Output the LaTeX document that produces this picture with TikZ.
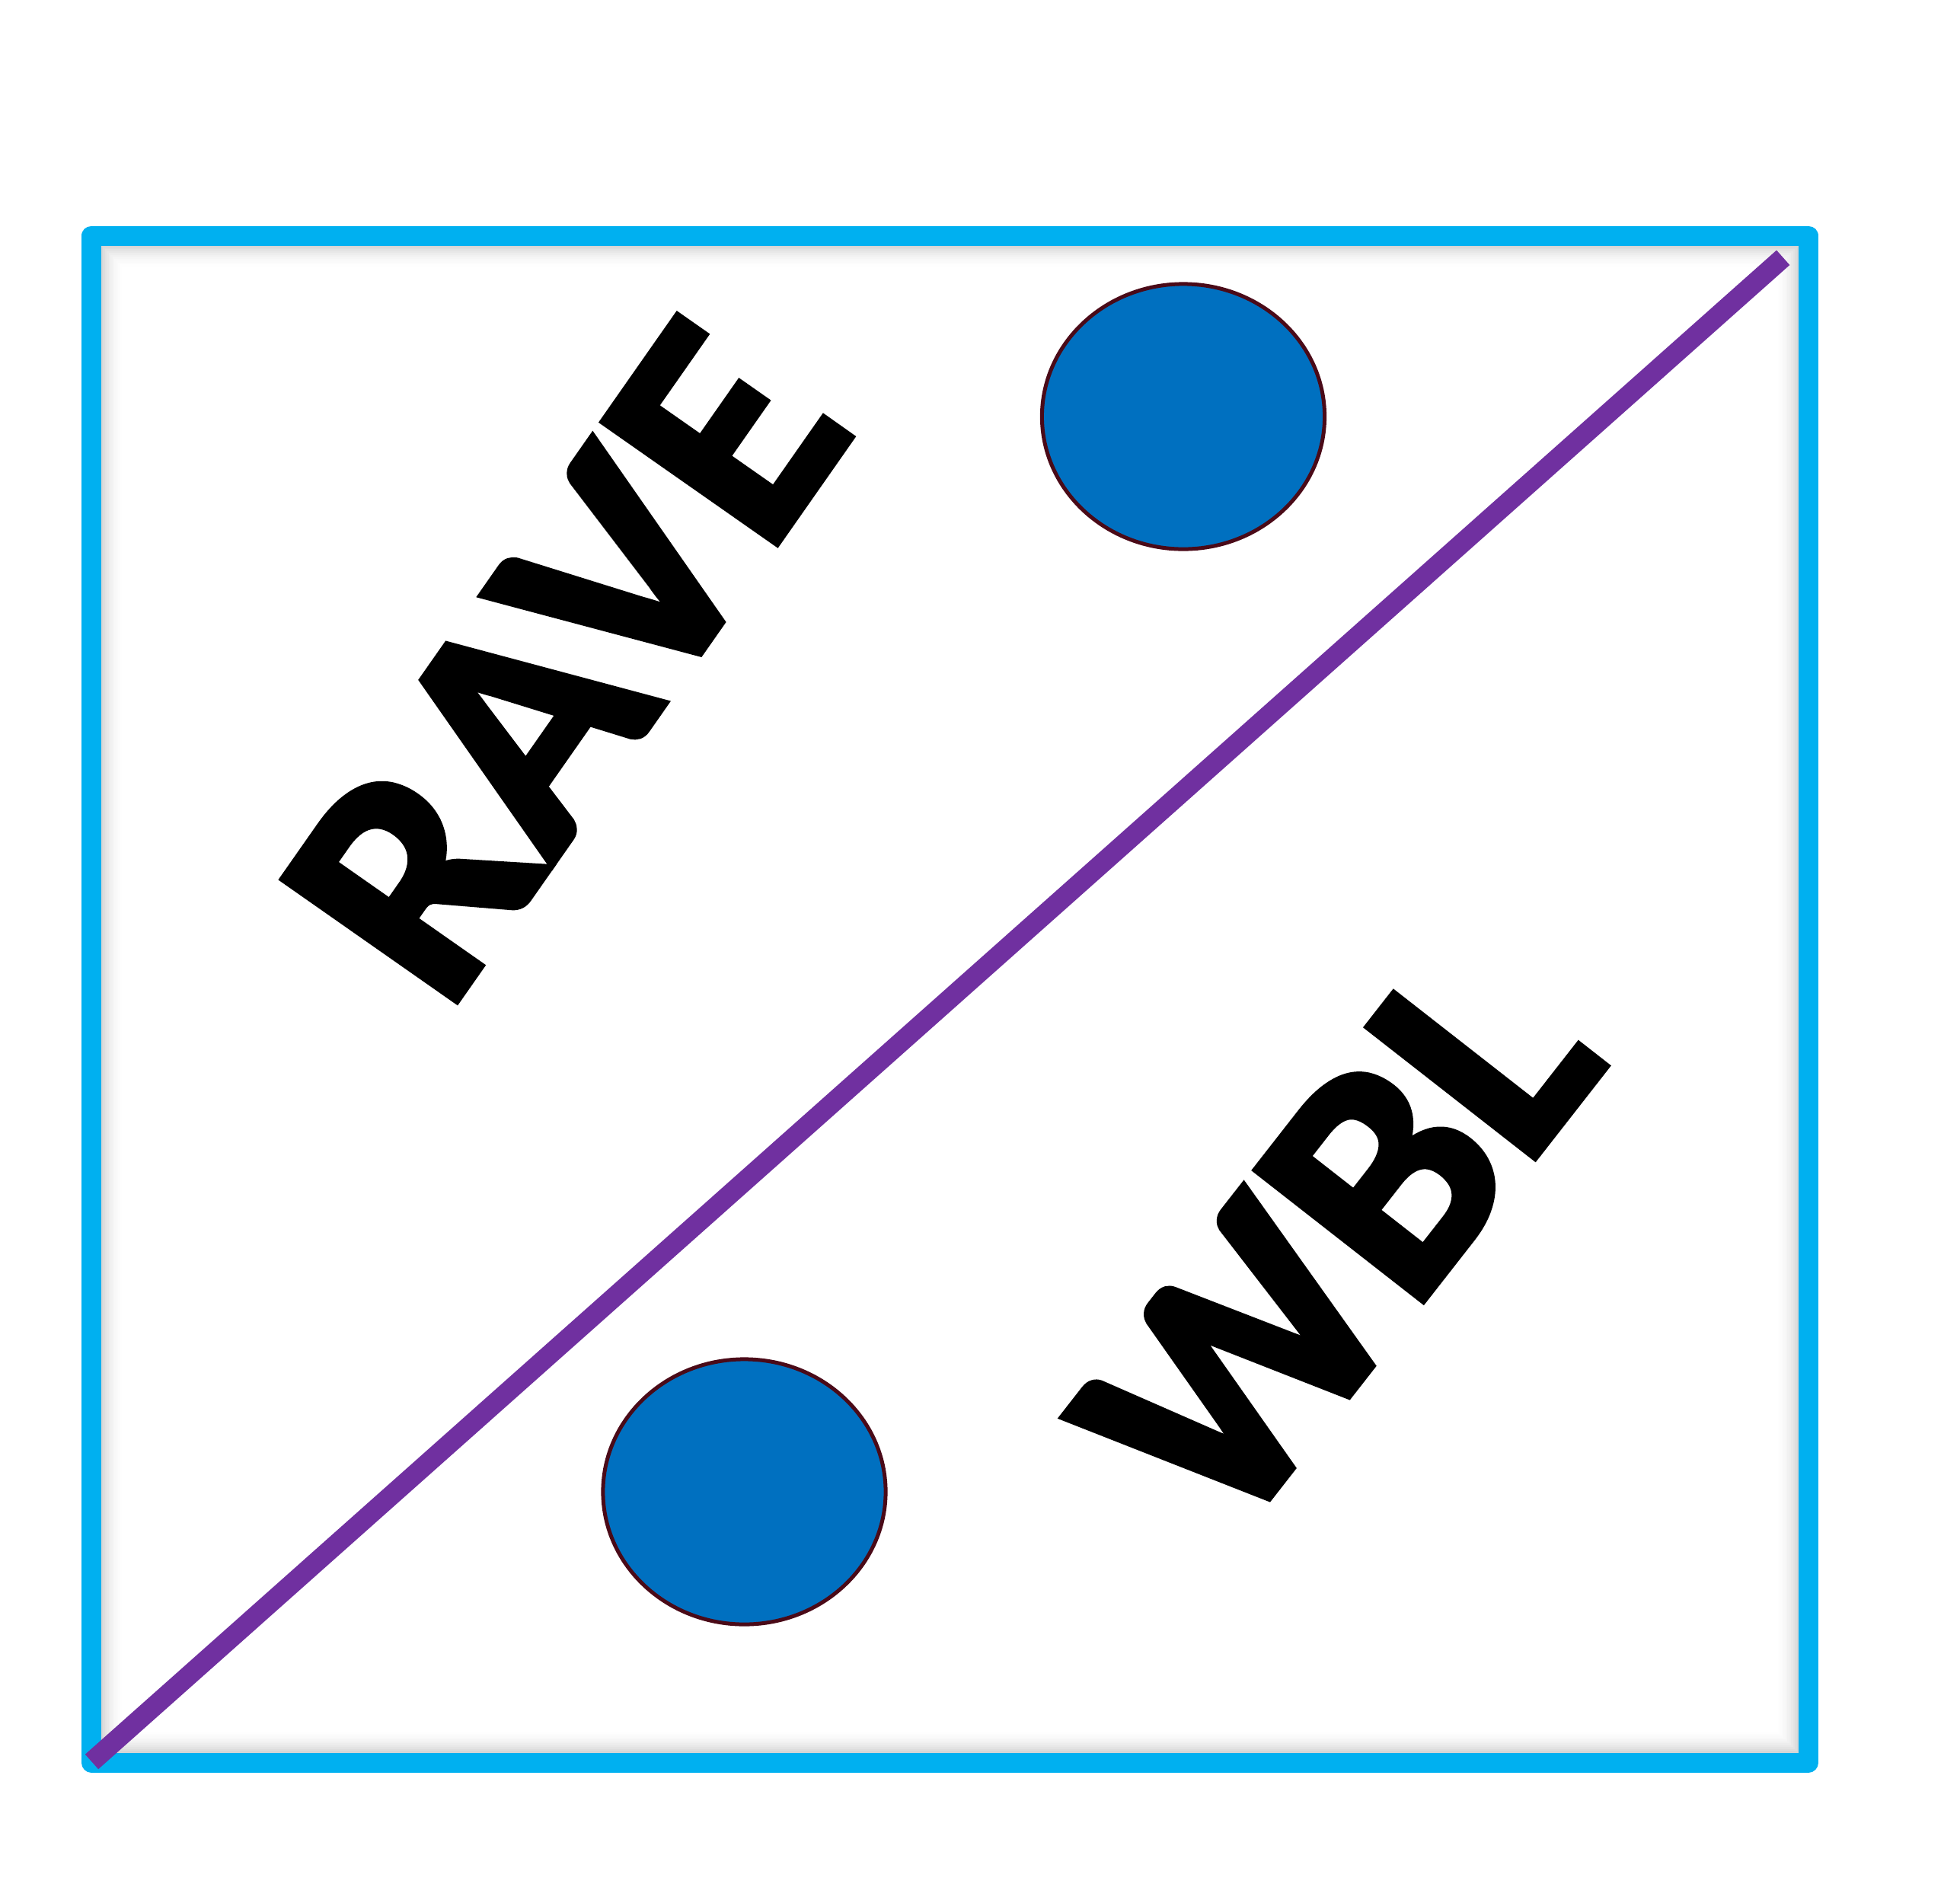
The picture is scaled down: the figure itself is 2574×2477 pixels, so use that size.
\documentclass[tikz,border=0pt]{standalone}
\usepackage{fontspec}
\setmainfont{Carlito}
\newfontfamily\wordfont{Carlito Bold}[FakeBold=2.2]
\usetikzlibrary{shapes.geometric}
\definecolor{framecyan}{HTML}{00B0F0}
\definecolor{diagpurple}{HTML}{7030A0}
\definecolor{dotblue}{HTML}{0070C0}
\definecolor{dotdark}{HTML}{002448}
\definecolor{dotrim}{HTML}{4A0A18}
\pgfdeclareradialshading{dotshade}{\pgfpoint{0bp}{0bp}}{color(0bp)=(dotblue); color(38bp)=(dotblue); color(50bp)=(dotdark); color(60bp)=(dotdark)}
\tikzset{
  frameline/.style={draw=framecyan, line width=0.26cm, line join=round},
  diagline/.style={draw=diagpurple, line width=0.26cm, line cap=butt},
  dot/.style={ellipse, draw=dotrim, line width=0.05cm, shading=dotshade, minimum width=3.71cm, minimum height=3.48cm, inner sep=0pt},
  bigword/.style={inner sep=0pt, anchor=base, font=\fontsize{122}{122}\wordfont, text=black},
}
\begin{document}
\begin{tikzpicture}[x=0.01cm, y=-0.01cm]
\useasboundingbox (0,0) rectangle (2574,2477);
\fill[white] (0,0) rectangle (2574,2477);
% inner shadow of the frame
\foreach \i in {0,...,11}{
  \pgfmathsetmacro{\ins}{14+2.5*\i}
  \pgfmathsetmacro{\op}{0.16*(1-\i/12)^2}
  \draw[black, draw opacity=\op, line width=0.026cm] (120+\ins,309.5+\ins) rectangle (2375-\ins,2314.5-\ins);
}
\draw[frameline] (120,309.5) rectangle (2375,2314.5);
% diagonal
\coordinate (p1) at (120.5,2313.5);
\coordinate (p2) at (2341.7,338.3);
\draw[diagline] (p1) -- (p2);
% dots
\node[dot] (dotA) at (1554,547) {};
\node[dot] (dotB) at (977.5,1959) {};
% words
\node[bigword, rotate=55] (rave) at (856,948) {RAVE};
\node[bigword, rotate=52] (wbl) at (1864,1714) {WBL};
\end{tikzpicture}
\end{document}
